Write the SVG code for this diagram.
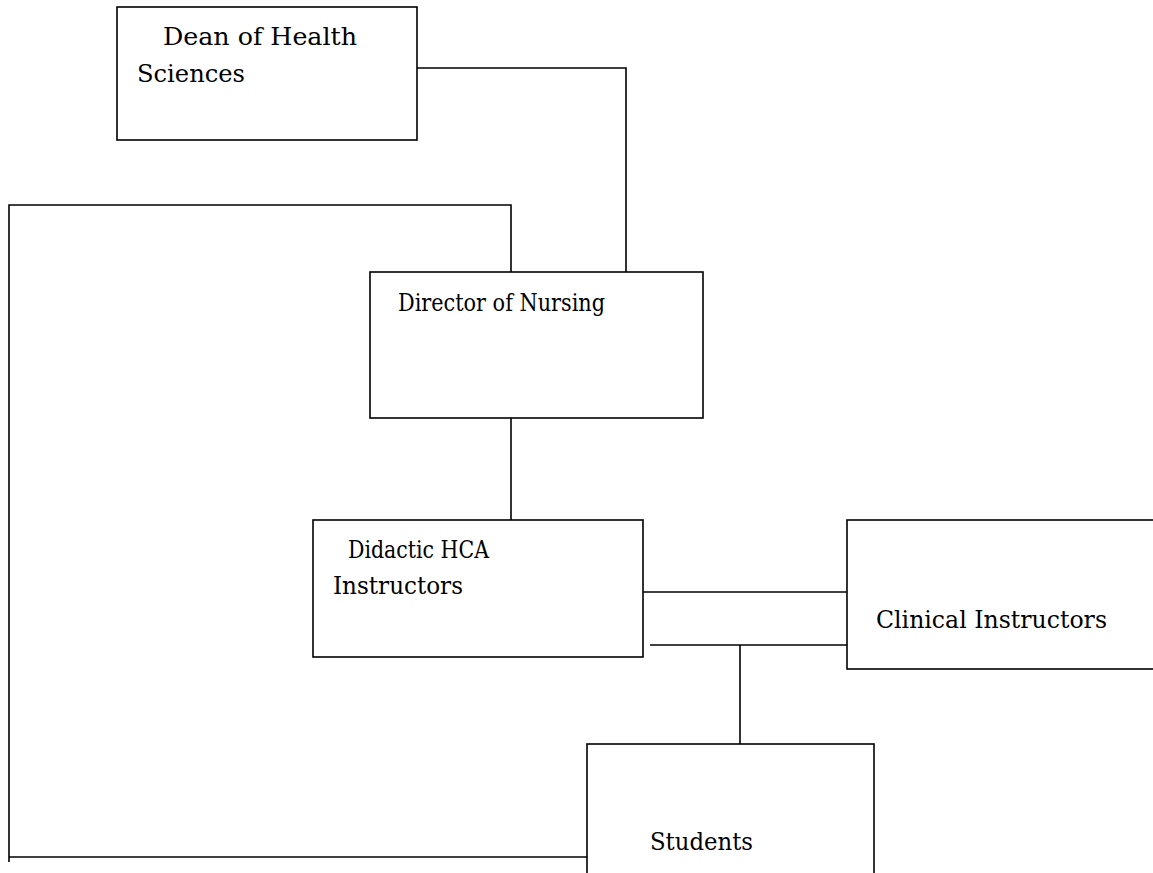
<svg xmlns="http://www.w3.org/2000/svg" width="1153" height="873" viewBox="0 0 1153 873">
<style>
.box{fill:#fff;stroke:#000;stroke-width:1.6}
.ln{fill:none;stroke:#000;stroke-width:1.6}
text{font-family:"DejaVu Serif Condensed","DejaVu Serif",serif;font-size:23.5px;fill:#000}
</style>
<rect width="1153" height="873" fill="#fff"/>
<g id="connectors">
<polyline class="ln" points="417,68 626,68 626,272"/>
<polyline class="ln" points="511,272 511,205 9,205 9,862"/>
<line class="ln" x1="9" y1="857" x2="587" y2="857"/>
<line class="ln" x1="511" y1="418" x2="511" y2="520"/>
<line class="ln" x1="643" y1="592" x2="847" y2="592"/>
<line class="ln" x1="650" y1="645" x2="847" y2="645"/>
<line class="ln" x1="740" y1="645" x2="740" y2="744"/>
</g>
<g id="dean">
<rect class="box" x="117" y="7" width="300" height="133"/>
<text x="163" y="45" textLength="194" lengthAdjust="spacingAndGlyphs">Dean of Health</text>
<text x="137" y="82" textLength="108" lengthAdjust="spacingAndGlyphs">Sciences</text>
</g>
<g id="director">
<rect class="box" x="370" y="272" width="333" height="146"/>
<text x="398" y="311" textLength="207" lengthAdjust="spacingAndGlyphs">Director of Nursing</text>
</g>
<g id="didactic">
<rect class="box" x="313" y="520" width="330" height="137"/>
<text x="348" y="558" textLength="141" lengthAdjust="spacingAndGlyphs">Didactic HCA</text>
<text x="333" y="594" textLength="130" lengthAdjust="spacingAndGlyphs">Instructors</text>
</g>
<g id="clinical">
<rect class="box" x="847" y="520" width="320" height="149"/>
<text x="876" y="628" textLength="231" lengthAdjust="spacingAndGlyphs">Clinical Instructors</text>
</g>
<g id="students">
<rect class="box" x="587" y="744" width="287" height="140"/>
<text x="650" y="850" textLength="103" lengthAdjust="spacingAndGlyphs">Students</text>
</g>
</svg>
